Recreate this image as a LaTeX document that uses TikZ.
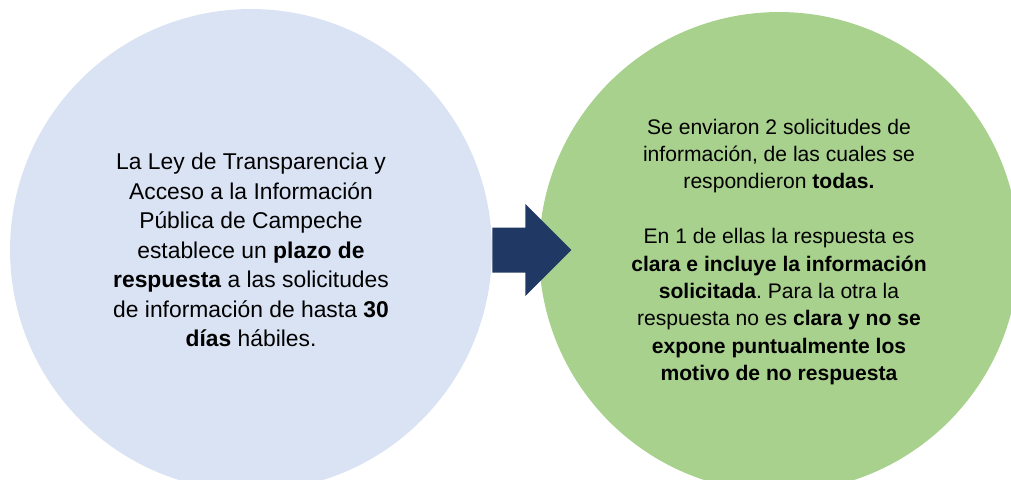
\documentclass[tikz,border=0pt]{standalone}
\usepackage{fontspec}
\setmainfont{Liberation Sans}
\usepackage{tikz}
\usetikzlibrary{positioning}
\definecolor{azulclaro}{HTML}{DAE3F3}
\definecolor{verdeclaro}{HTML}{A9D18E}
\definecolor{azulmarino}{HTML}{203864}
\tikzset{
  burbuja/.style={circle, inner sep=0pt, minimum size=#1, align=center,
    font=\fontsize{12}{15.6}\selectfont},
}
\frenchspacing

\begin{document}
\begin{tikzpicture}[x=0.02cm, y=-0.02cm]
  %%%%% START %%%%%
  \useasboundingbox (0,0) rectangle (1011,480);
  \clip (0,0) rectangle (1011,480);

  \node[burbuja=9.64cm, fill=azulclaro, font=\fontsize{13}{16.8}\selectfont] (ley) at (251, 250) {La Ley de Transparencia y\\
    Acceso a la Información\\
    Pública de Campeche\\
    establece un \textbf{plazo de}\\
    \textbf{respuesta} a las solicitudes\\
    de información de hasta \textbf{30}\\
    \textbf{días} hábiles.};

  \node[burbuja=9.6cm, fill=verdeclaro] (resultado) at (779, 252) {Se enviaron 2 solicitudes de\\
    información, de las cuales se\\
    respondieron \textbf{todas.}\\[15.6pt]
    En 1 de ellas la respuesta es\\
    \textbf{clara e incluye la información}\\
    \textbf{solicitada}. Para la otra la\\
    respuesta no es \textbf{clara y no se}\\
    \textbf{expone puntualmente los}\\
    \textbf{motivo de no respuesta}};

  \fill[azulmarino] (ley.east) ++(0,-22.5) -- ++(33,0) -- ++(0,-23.5) -- ++(46,46)
    -- ++(-46,46) -- ++(0,-23.5) -- ++(-33,0) -- cycle;
  %%%%% END %%%%%
\end{tikzpicture}
\end{document}
